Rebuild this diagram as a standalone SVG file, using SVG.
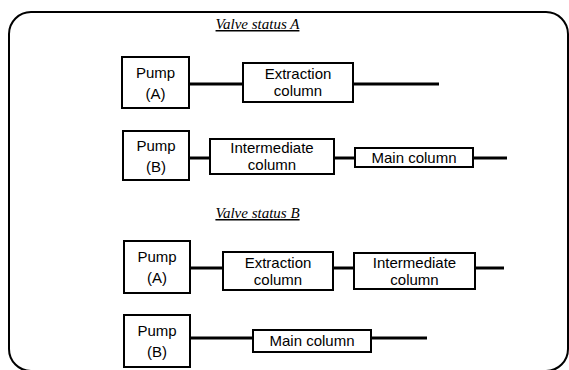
<svg xmlns="http://www.w3.org/2000/svg" width="569" height="370" viewBox="0 0 569 370">
<style>
.frame{fill:none;stroke:#000;stroke-width:2}
.box{fill:#fff;stroke:#000;stroke-width:2}
.wire{stroke:#000;stroke-width:3;fill:none}
.t{font-family:"Liberation Sans",Arial,sans-serif;font-size:15px;fill:#000;text-anchor:middle}
.h{font-family:"Liberation Serif","Times New Roman",serif;font-size:15px;font-style:italic;fill:#000;text-decoration:underline;text-anchor:middle}
</style>
<rect width="569" height="370" fill="#fff"/>
<rect class="frame" x="9" y="12" width="559" height="359" rx="22" ry="22"/>
<text class="h" x="257.5" y="29">Valve status A</text>
<text class="h" x="257.5" y="218">Valve status B</text>
<g id="connectors">
<line class="wire" x1="189" y1="84" x2="243" y2="84"/>
<line class="wire" x1="353" y1="84" x2="439" y2="84"/>
<line class="wire" x1="189" y1="158" x2="210" y2="158"/>
<line class="wire" x1="334" y1="158" x2="355" y2="158"/>
<line class="wire" x1="473" y1="158" x2="507" y2="158"/>
<line class="wire" x1="190" y1="268" x2="223" y2="268"/>
<line class="wire" x1="333" y1="268" x2="354" y2="268"/>
<line class="wire" x1="475" y1="268" x2="504" y2="268"/>
<line class="wire" x1="190" y1="338" x2="253" y2="338"/>
<line class="wire" x1="371" y1="338" x2="427" y2="338"/>
</g>
<g id="pumpA1">
<rect class="box" x="122" y="57" width="67" height="51"/>
<text class="t" x="155.5" y="78">Pump</text>
<text class="t" x="155.5" y="99">(A)</text>
</g>
<g id="extraction1">
<rect class="box" x="243" y="63" width="110" height="39"/>
<text class="t" x="298" y="79">Extraction</text>
<text class="t" x="298" y="96">column</text>
</g>
<g id="pumpB1">
<rect class="box" x="123" y="131" width="66" height="49"/>
<text class="t" x="156" y="151">Pump</text>
<text class="t" x="156" y="172">(B)</text>
</g>
<g id="intermediate1">
<rect class="box" x="210" y="139" width="124" height="35"/>
<text class="t" x="272" y="153">Intermediate</text>
<text class="t" x="272" y="170">column</text>
</g>
<g id="main1">
<rect class="box" x="355" y="148" width="118" height="19"/>
<text class="t" x="414" y="163">Main column</text>
</g>
<g id="pumpA2">
<rect class="box" x="124" y="241" width="66" height="52"/>
<text class="t" x="157" y="262">Pump</text>
<text class="t" x="157" y="283">(A)</text>
</g>
<g id="extraction2">
<rect class="box" x="223" y="252" width="110" height="38"/>
<text class="t" x="278" y="268">Extraction</text>
<text class="t" x="278" y="285">column</text>
</g>
<g id="intermediate2">
<rect class="box" x="354" y="253" width="121" height="36"/>
<text class="t" x="414.5" y="268">Intermediate</text>
<text class="t" x="414.5" y="285">column</text>
</g>
<g id="pumpB2">
<rect class="box" x="124" y="315" width="66" height="52"/>
<text class="t" x="157" y="336">Pump</text>
<text class="t" x="157" y="357">(B)</text>
</g>
<g id="main2">
<rect class="box" x="253" y="330" width="118" height="22"/>
<text class="t" x="312" y="346">Main column</text>
</g>
</svg>
